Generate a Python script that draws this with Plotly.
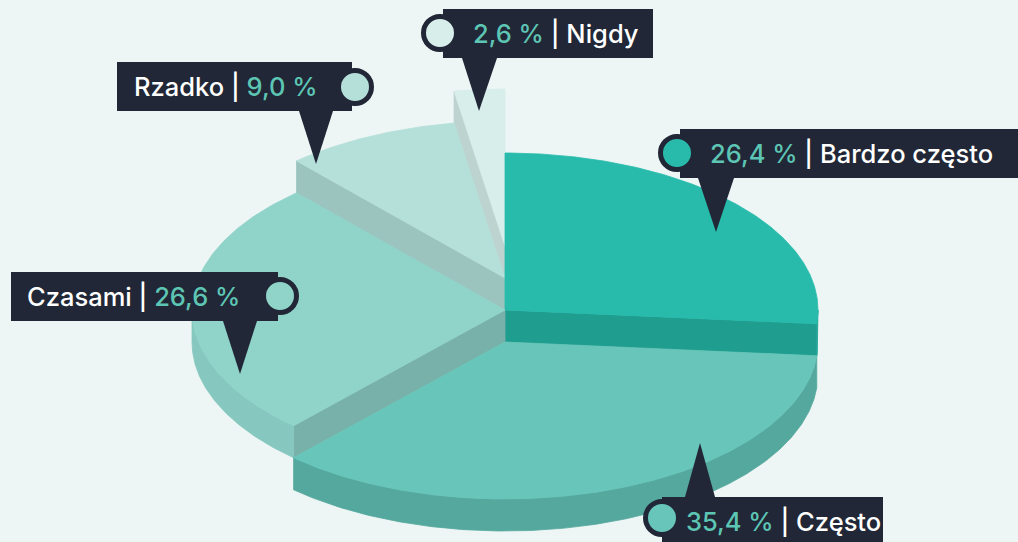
import numpy as np
import plotly.graph_objects as go

# ---------------- data ----------------
categories = ["Bardzo często", "Często", "Czasami", "Rzadko", "Nigdy"]
values = [26.4, 35.4, 26.6, 9.0, 2.6]

# ---------------- styles ----------------
top_colors = ["#28BBAC", "#67C5B9", "#8FD3C9", "#B5DFD9", "#D7EEEA"]
side_colors = ["#22A597", "#55A89E", "#86C8BF", "#A6CFCA", "#C9E0DC"]
face_colors = ["#1F9D8F", "#4F9E94", "#78B1A9", "#9CC4BF", "#BDD3D0"]
levels = [1, 0, 1, 2, 3]          # vertical step of each slice
label_pct_first = [True, True, False, False, True]

BG = "#EDF6F4"
NAVY = "#212736"
TEAL_TXT = "#5DC5B4"

W, H = 1018, 542
CX, CY0 = 505, 342
RX, RY = 313, 157
STEP, DEPTH = 32, 32
START = 90.0

# label layout: box (x0, y0, x1, y1), circle centre, text start x, pointer (xa, xb, y_base, tip_x, tip_y)
label_layout = [
    dict(box=(680, 129, 1018, 178), circ=(677, 153), tx=708, ptr=(698, 734, 178, 716, 232)),
    dict(box=(662, 497, 883, 548), circ=(662, 518), tx=684, ptr=(685, 715, 497, 700, 443)),
    dict(box=(11, 272, 278, 321), circ=(280, 296), tx=25, ptr=(223, 257, 321, 240, 374)),
    dict(box=(117, 62, 352, 111), circ=(355, 87), tx=132, ptr=(299, 333, 111, 316, 164)),
    dict(box=(443, 9, 653, 58), circ=(440, 33), tx=471, ptr=(462, 497, 58, 479, 111)),
]


def pt(a_deg, cy):
    a = np.radians(a_deg)
    return CX + RX * np.cos(a), cy - RY * np.sin(a)


def arc(a0, a1, cy, n=None):
    if n is None:
        n = max(2, int(abs(a1 - a0) * 2) + 2)
    a = np.linspace(a0, a1, n)
    return pt(a, cy)


fig = go.Figure()

total = float(sum(values))
spans = []
cum = 0.0
for v in values:
    a_hi = START - cum / total * 360.0
    a_lo = a_hi - v / total * 360.0
    spans.append((a_lo, a_hi))
    cum += v

n = len(values)
mids = [np.sin(np.radians((lo + hi) / 2)) for lo, hi in spans]
order = sorted(range(n), key=lambda i: -mids[i])


def poly(xs, ys, color):
    fig.add_trace(go.Scatter(
        x=list(xs), y=list(ys), mode="lines", fill="toself",
        fillcolor=color, line=dict(width=0.8, color=color),
        hoverinfo="skip", showlegend=False))


for i in order:
    lo, hi = spans[i]
    cy_top = CY0 - levels[i] * STEP
    cy_bot = cy_top + DEPTH
    prev_i = (i - 1) % n   # neighbour at a_hi
    next_i = (i + 1) % n   # neighbour at a_lo

    # radial faces
    for a, nb, vis in ((hi, prev_i, np.cos(np.radians(hi)) < -1e-6),
                       (lo, next_i, np.cos(np.radians(lo)) > 1e-6)):
        if vis and levels[nb] < levels[i]:
            ox, oy = pt(a, cy_top)
            bx, by = pt(a, cy_bot)
            poly([CX, ox, bx, CX, CX], [cy_top, oy, by, cy_bot, cy_top], face_colors[i])

    # outer side (front half only)
    for k in range(-2, 2):
        f0, f1 = k * 360 - 180, k * 360
        s0, s1 = max(lo, f0), min(hi, f1)
        if s1 - s0 > 1e-6:
            tx_, ty_ = arc(s0, s1, cy_top)
            bx_, by_ = arc(s1, s0, cy_bot)
            xs = np.concatenate([tx_, bx_, tx_[:1]])
            ys = np.concatenate([ty_, by_, ty_[:1]])
            poly(xs, ys, side_colors[i])

    # top
    ax_, ay_ = arc(lo, hi, cy_top)
    xs = np.concatenate([[CX], ax_, [CX]])
    ys = np.concatenate([[cy_top], ay_, [cy_top]])
    poly(xs, ys, top_colors[i])

# ---------------- labels ----------------
shapes = []
annotations = []
for i in range(n):
    L = label_layout[i]
    x0, y0, x1, y1 = L["box"]
    xa, xb, yb, tx, ty = L["ptr"]
    shapes.append(dict(type="path", path=f"M {xa},{yb} L {xb},{yb} L {tx},{ty} Z",
                       fillcolor=NAVY, line=dict(width=0), layer="above"))
    shapes.append(dict(type="rect", x0=x0, y0=y0, x1=x1, y1=y1,
                       fillcolor=NAVY, line=dict(width=0), layer="above"))
    cx, cy = L["circ"]
    r = 16.5
    shapes.append(dict(type="circle", x0=cx - r, x1=cx + r, y0=cy - r, y1=cy + r,
                       fillcolor=top_colors[i], line=dict(width=5, color=NAVY), layer="above"))
    pct = f"{values[i]:.1f}".replace(".", ",") + " %"
    pct_html = f"<span style='color:{TEAL_TXT}'>{pct}</span>"
    if label_pct_first[i]:
        txt = f"{pct_html} | {categories[i]}"
    else:
        txt = f"{categories[i]} | {pct_html}"
    annotations.append(dict(x=L["tx"], y=(y0 + min(y1, y0 + 49)) / 2, xref="x", yref="y",
                            text=txt, showarrow=False, xanchor="left", yanchor="middle",
                            font=dict(family="Inter", size=25.5, weight=500, color="white")))

fig.update_layout(
    width=W, height=H,
    margin=dict(l=0, r=0, t=0, b=0),
    paper_bgcolor=BG, plot_bgcolor=BG,
    xaxis=dict(range=[0, W], visible=False, fixedrange=True),
    yaxis=dict(range=[H, 0], visible=False, fixedrange=True),
    shapes=shapes, annotations=annotations,
    showlegend=False,
)

fig.write_html("out.html", config={"displayModeBar": False},
               post_script="document.body.style.margin='0';document.body.style.overflow='hidden';document.body.style.background='" + BG + "';")
